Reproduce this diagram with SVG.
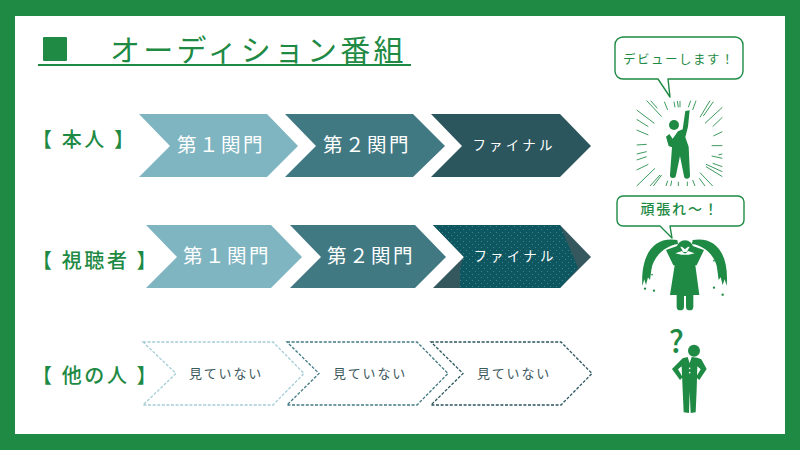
<svg xmlns="http://www.w3.org/2000/svg" width="800" height="450" viewBox="0 0 800 450">
<style>
text{font-family:"Noto Sans CJK JP","Noto Sans",sans-serif}
.g{fill:#1e8a44}
.title{font-size:30px;fill:#1e8a44;letter-spacing:3.2px}
.row{font-size:20px;fill:#1e8a44;letter-spacing:2.6px;font-weight:500}
.c1{fill:#7fb5c1}.c2{fill:#417983}.c3{fill:#2c565e}.c4{fill:#35585f}
.lab{font-size:19.500px;fill:#fff;text-anchor:middle;letter-spacing:2.500px}
.fin{font-size:13.500px;fill:#fff;text-anchor:middle;letter-spacing:3.200px}
.no{font-size:13px;fill:#3d5a60;text-anchor:middle;letter-spacing:1.800px}
.d{fill:none;stroke-width:1.3;stroke-dasharray:3 1.6}
.bub{fill:#fff;stroke:#1e8a44;stroke-width:1.4;stroke-linejoin:round}
.say{fill:#1e8a44;text-anchor:middle}
.ray{stroke:#1e8a44;stroke-width:2.600;fill:none}
</style>
<defs>
<pattern id="dots" width="6" height="6" patternUnits="userSpaceOnUse">
<circle cx="1.500" cy="1.500" r=".5" fill="#4a8f93"/><circle cx="4.500" cy="4.500" r=".5" fill="#4a8f93"/>
</pattern>
</defs>
<rect width="800" height="450" class="g"/>
<rect x="15" y="16" width="770" height="418" fill="#fff"/>

<g id="title">
<rect x="43" y="37" width="24" height="24" rx="1" class="g"/>
<text x="110" y="61" class="title">オーディション番組</text>
<rect x="38" y="64" width="373" height="2" class="g"/>
</g>

<g id="row-labels">
<text x="32" y="147" class="row">【 本人 】</text>
<text x="32" y="268" class="row">【 視聴者 】</text>
<text x="32" y="383" class="row">【 他の人 】</text>
</g>

<g id="self-1"><polygon class="c1" points="139,114 267,114 298,146 267,177 139,177 170,146"/><text x="221" y="152" class="lab">第１関門</text></g>
<g id="self-2"><polygon class="c2" points="285,114 413,114 445,146 413,177 285,177 316,146"/><text x="367" y="152" class="lab">第２関門</text></g>
<g id="self-3"><polygon class="c3" points="431,114 560,114 591,146 560,177 431,177 462,146"/><text x="514" y="150" class="fin">ファイナル</text></g>

<g id="viewer-1"><polygon class="c1" points="146,225 271,225 302,257 271,288 146,288 177,257"/><text x="227" y="263" class="lab">第１関門</text></g>
<g id="viewer-2"><polygon class="c2" points="290,225 415,225 446,257 415,288 290,288 321,257"/><text x="371" y="263" class="lab">第２関門</text></g>
<g id="viewer-3">
<polygon class="c4" points="433,225 560,225 591,257 560,288 433,288 464,257"/>
<polygon fill="#0e5660" points="433,225 560,225 578,268 560,288 460,288 460,268 464,257"/>
<polygon fill="url(#dots)" points="433,225 560,225 578,268 560,288 460,288 460,268 464,257"/>
<text x="515" y="261" class="fin">ファイナル</text>
</g>

<g id="other-1"><polygon class="d" stroke="#a5cdd5" points="143,342 273,342 304,373.500 273,405 143,405 176,373.500"/><text x="226" y="378" class="no">見ていない</text></g>
<g id="other-2"><polygon class="d" stroke="#417983" points="287,342 417,342 448,373.500 417,405 287,405 319,373.500"/><text x="370" y="378" class="no">見ていない</text></g>
<g id="other-3"><polygon class="d" stroke="#2c565e" points="431,342 561,342 592,373.500 561,405 431,405 463,373.500"/><text x="514" y="378" class="no">見ていない</text></g>

<g id="bubble-debut">
<path class="bub" d="M623,37H735a8,8 0 0 1 8,8V71a8,8 0 0 1 -8,8H668L670,97L658,79H623a8,8 0 0 1 -8,-8V45a8,8 0 0 1 8,-8Z"/>
<text x="679" y="64" class="say" font-size="12.500" letter-spacing="1.500">デビューします！</text>
</g>

<g id="figure-cheer" transform="translate(600 30) scale(.3333)">
<circle cx="222" cy="285" r="15" class="g"/>
<path class="g" d="M256,243L269,241L264,290L256,322L266,350L270,436A8,8 0 0 1 252,438L240,378L228,436A8,8 0 0 1 210,434L216,352L206,348L198,320L208,312L218,326L234,304L248,298Z"/>
<path class="ray" d="M140,212L185,260M152,212L172,235M193,215L203,240M222,215L225,232M232,213L235,232M240,213L240,232M288,212L278,240M272,212L265,232M330,212L300,262M340,215L310,258M367,232L315,280M367,262L338,290M367,305L340,318M367,347L335,347M367,372L355,375M367,385L335,378M367,410L338,400M367,425L318,403M367,440L318,410M338,468L300,428M315,468L298,445M285,468L278,450M262,468L262,455M235,468L235,455M212,468L215,452M198,468L203,452M180,435L150,468M185,435L160,468M165,415L110,468M145,403L110,420M140,380L110,390M140,365L110,372M140,343L110,345M145,315L110,300M145,290L110,268M163,280L110,240"/>
</g>

<g id="bubble-cheer">
<path class="bub" d="M623,196H738a6,6 0 0 1 6,6V220a6,6 0 0 1 -6,6H670L672,238L660,226H623a6,6 0 0 1 -6,-6V202a6,6 0 0 1 6,-6Z"/>
<text x="680" y="214" class="say" font-size="14" font-weight="500" letter-spacing="1.800">頑張れ～！</text>
</g>

<g id="figure-cry" transform="translate(600 190) scale(.3333)">
<path class="g" d="M231,172A24,21 0 0 1 279,172L264,170L255,178L246,170Z"/>
<path class="g" d="M198,180L238,166L250,186L260,186L272,166L312,180L290,226L286,226L298,315L280,315L280,350A11,11 0 0 1 258,350L258,318L252,318L252,350A11,11 0 0 1 230,350L230,315L210,315L224,226L220,226Z"/>
<path fill="#fff" d="M226,190L246,183L252,190H258L264,183L284,190L266,194H244Z"/>
<path class="g" d="M232,150C160,138 122,195 127,288L133,268L138,285L144,262L150,270L154,240C158,205 190,168 234,162Z"/>
<path class="g" d="M278,150C350,138 388,195 380,288L374,268L368,285L362,262L356,270L352,240C350,205 320,168 276,162Z"/>
<circle cx="135" cy="296" r="3.500" class="g"/><circle cx="162" cy="302" r="3.500" class="g"/><circle cx="156" cy="254" r="2.500" class="g"/><circle cx="342" cy="212" r="2.500" class="g"/><circle cx="342" cy="293" r="3.500" class="g"/><circle cx="368" cy="314" r="3.500" class="g"/>
</g>

<g id="figure-puzzled" transform="translate(640 325) scale(.3333)">
<text x="109" y="85" font-size="92" font-weight="500" class="g" text-anchor="middle">?</text>
<circle cx="162" cy="77" r="18" class="g"/>
<path class="g" d="M128,100L143,96L149,115L155,96L172,98L184,103L200,132L178,165L168,157L182,133L172,124L170,195L167,262L152,264L149,200L147,264L131,262L128,195L125,124L114,133L128,157L120,165L96,132Z"/>
<circle cx="149" cy="130" r="2.500" fill="#fff"/><circle cx="149" cy="143" r="2.500" fill="#fff"/>
</g>
</svg>
